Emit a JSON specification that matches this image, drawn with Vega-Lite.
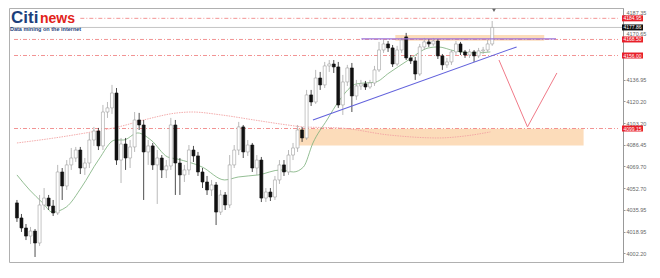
{
  "$schema": "https://vega.github.io/schema/vega-lite/v6.json",
  "width": 614,
  "height": 254,
  "autosize": {"type": "none"},
  "padding": {"left": 9, "top": 8, "right": 37, "bottom": 16},
  "background": "white",
  "config": {"view": {"stroke": "#b0b0b0", "strokeWidth": 1}, "font": "Liberation Sans",
    "axisY": {"labelOverlap": false, "labelSeparation": 0}},
  "datasets": {
    "candles": [
      {"i":0,"o":4041.2,"c":4029.5,"h":4043.5,"l":4026.4},
      {"i":1,"o":4029.5,"c":4021.7,"h":4032.6,"l":4018.6},
      {"i":2,"o":4021.7,"c":4015.4,"h":4024.8,"l":4012.3},
      {"i":3,"o":4015.4,"c":4019.3,"h":4022.5,"l":4009.2},
      {"i":4,"o":4019.3,"c":4010.0,"h":4020.9,"l":3999.1},
      {"i":5,"o":4010.0,"c":4039.6,"h":4047.4,"l":4007.7},
      {"i":6,"o":4039.6,"c":4045.0,"h":4052.8,"l":4035.7},
      {"i":7,"o":4045.0,"c":4038.8,"h":4047.4,"l":4035.7},
      {"i":8,"o":4038.8,"c":4033.4,"h":4043.5,"l":4031.0},
      {"i":9,"o":4033.4,"c":4065.3,"h":4070.8,"l":4031.8},
      {"i":10,"o":4065.3,"c":4054.4,"h":4068.4,"l":4043.5},
      {"i":11,"o":4054.4,"c":4070.8,"h":4074.6,"l":4051.3},
      {"i":12,"o":4070.8,"c":4076.2,"h":4084.0,"l":4066.9},
      {"i":13,"o":4076.2,"c":4082.4,"h":4084.8,"l":4073.1},
      {"i":14,"o":4082.4,"c":4068.4,"h":4084.8,"l":4063.7},
      {"i":15,"o":4068.4,"c":4072.3,"h":4076.2,"l":4063.0},
      {"i":16,"o":4072.3,"c":4090.2,"h":4095.7,"l":4068.4},
      {"i":17,"o":4090.2,"c":4097.2,"h":4100.4,"l":4085.6},
      {"i":18,"o":4097.2,"c":4085.6,"h":4099.6,"l":4082.4},
      {"i":19,"o":4085.6,"c":4112.0,"h":4117.5,"l":4082.4},
      {"i":20,"o":4112.0,"c":4115.2,"h":4119.8,"l":4107.4},
      {"i":21,"o":4115.2,"c":4126.8,"h":4133.1,"l":4110.5},
      {"i":22,"o":4126.8,"c":4074.6,"h":4130.7,"l":4070.8},
      {"i":23,"o":4074.6,"c":4087.1,"h":4091.8,"l":4056.7},
      {"i":24,"o":4087.1,"c":4076.2,"h":4091.8,"l":4066.9},
      {"i":25,"o":4076.2,"c":4084.8,"h":4090.2,"l":4068.4},
      {"i":26,"o":4084.8,"c":4105.8,"h":4112.0,"l":4080.9},
      {"i":27,"o":4105.8,"c":4101.9,"h":4111.3,"l":4098.0},
      {"i":28,"o":4101.9,"c":4080.9,"h":4105.8,"l":4043.5},
      {"i":29,"o":4080.9,"c":4085.6,"h":4090.2,"l":4070.8},
      {"i":30,"o":4085.6,"c":4070.8,"h":4087.9,"l":4066.9},
      {"i":31,"o":4070.8,"c":4076.2,"h":4082.4,"l":4040.4},
      {"i":32,"o":4076.2,"c":4066.9,"h":4078.5,"l":4060.6},
      {"i":33,"o":4066.9,"c":4070.0,"h":4074.6,"l":4060.6},
      {"i":34,"o":4070.0,"c":4101.9,"h":4107.4,"l":4066.9},
      {"i":35,"o":4101.9,"c":4072.3,"h":4105.8,"l":4047.4},
      {"i":36,"o":4072.3,"c":4063.0,"h":4076.2,"l":4047.4},
      {"i":37,"o":4063.0,"c":4066.9,"h":4070.8,"l":4057.5},
      {"i":38,"o":4066.9,"c":4082.4,"h":4086.3,"l":4063.0},
      {"i":39,"o":4082.4,"c":4077.8,"h":4085.6,"l":4073.1},
      {"i":40,"o":4077.8,"c":4065.3,"h":4080.9,"l":4062.2},
      {"i":41,"o":4065.3,"c":4057.5,"h":4068.4,"l":4052.8},
      {"i":42,"o":4057.5,"c":4051.3,"h":4062.2,"l":4047.4},
      {"i":43,"o":4051.3,"c":4055.2,"h":4059.1,"l":4046.6},
      {"i":44,"o":4055.2,"c":4034.1,"h":4057.5,"l":4024.0},
      {"i":45,"o":4034.1,"c":4047.4,"h":4051.3,"l":4031.8},
      {"i":46,"o":4047.4,"c":4039.6,"h":4049.7,"l":4035.7},
      {"i":47,"o":4039.6,"c":4070.8,"h":4078.5,"l":4037.3},
      {"i":48,"o":4070.8,"c":4082.4,"h":4086.3,"l":4068.4},
      {"i":49,"o":4082.4,"c":4100.4,"h":4104.3,"l":4078.5},
      {"i":50,"o":4100.4,"c":4080.9,"h":4101.9,"l":4076.2},
      {"i":51,"o":4080.9,"c":4086.3,"h":4090.2,"l":4077.8},
      {"i":52,"o":4086.3,"c":4068.4,"h":4087.9,"l":4065.3},
      {"i":53,"o":4068.4,"c":4074.6,"h":4078.5,"l":4063.0},
      {"i":54,"o":4074.6,"c":4045.0,"h":4077.0,"l":4041.9},
      {"i":55,"o":4045.0,"c":4049.7,"h":4052.8,"l":4041.9},
      {"i":56,"o":4049.7,"c":4045.8,"h":4052.8,"l":4042.7},
      {"i":57,"o":4045.8,"c":4059.1,"h":4062.2,"l":4043.5},
      {"i":58,"o":4059.1,"c":4070.8,"h":4074.6,"l":4056.0},
      {"i":59,"o":4070.8,"c":4065.3,"h":4074.6,"l":4062.2},
      {"i":60,"o":4065.3,"c":4078.5,"h":4082.4,"l":4063.0},
      {"i":61,"o":4078.5,"c":4084.0,"h":4087.9,"l":4074.6},
      {"i":62,"o":4084.0,"c":4098.0,"h":4101.9,"l":4080.9},
      {"i":63,"o":4098.0,"c":4091.8,"h":4100.4,"l":4088.7},
      {"i":64,"o":4091.8,"c":4125.3,"h":4129.2,"l":4090.2},
      {"i":65,"o":4125.3,"c":4119.8,"h":4129.2,"l":4116.7},
      {"i":66,"o":4119.8,"c":4138.5,"h":4144.8,"l":4118.3},
      {"i":67,"o":4138.5,"c":4133.1,"h":4143.2,"l":4129.2},
      {"i":68,"o":4133.1,"c":4147.9,"h":4151.0,"l":4130.7},
      {"i":69,"o":4147.9,"c":4149.4,"h":4152.5,"l":4143.2},
      {"i":70,"o":4149.4,"c":4147.1,"h":4152.5,"l":4142.4},
      {"i":71,"o":4147.1,"c":4117.5,"h":4151.0,"l":4115.2},
      {"i":72,"o":4117.5,"c":4135.4,"h":4140.9,"l":4109.7},
      {"i":73,"o":4135.4,"c":4146.3,"h":4148.7,"l":4132.3},
      {"i":74,"o":4146.3,"c":4124.5,"h":4150.2,"l":4112.0},
      {"i":75,"o":4124.5,"c":4132.3,"h":4137.0,"l":4121.4},
      {"i":76,"o":4132.3,"c":4133.9,"h":4137.0,"l":4129.2},
      {"i":77,"o":4133.9,"c":4131.5,"h":4136.2,"l":4129.2},
      {"i":78,"o":4131.5,"c":4134.6,"h":4137.0,"l":4130.0},
      {"i":79,"o":4134.6,"c":4144.8,"h":4147.9,"l":4132.3},
      {"i":80,"o":4144.8,"c":4160.3,"h":4166.6,"l":4143.2},
      {"i":81,"o":4160.3,"c":4165.0,"h":4168.1,"l":4158.0},
      {"i":82,"o":4165.0,"c":4161.9,"h":4167.3,"l":4158.8},
      {"i":83,"o":4161.9,"c":4149.4,"h":4164.2,"l":4147.1},
      {"i":84,"o":4149.4,"c":4160.3,"h":4163.5,"l":4147.9},
      {"i":85,"o":4160.3,"c":4168.1,"h":4169.7,"l":4158.0},
      {"i":86,"o":4170.5,"c":4154.1,"h":4173.6,"l":4152.5},
      {"i":87,"o":4154.1,"c":4151.8,"h":4156.4,"l":4149.4},
      {"i":88,"o":4151.8,"c":4141.6,"h":4154.9,"l":4137.0},
      {"i":89,"o":4141.6,"c":4162.7,"h":4165.0,"l":4140.1},
      {"i":90,"o":4162.7,"c":4166.6,"h":4169.7,"l":4160.3},
      {"i":91,"o":4166.6,"c":4165.0,"h":4168.9,"l":4162.7},
      {"i":92,"o":4165.0,"c":4167.3,"h":4169.7,"l":4163.5},
      {"i":93,"o":4167.3,"c":4155.7,"h":4168.9,"l":4153.3},
      {"i":94,"o":4155.7,"c":4148.7,"h":4157.2,"l":4144.8},
      {"i":95,"o":4148.7,"c":4151.0,"h":4154.1,"l":4146.3},
      {"i":96,"o":4151.0,"c":4158.8,"h":4160.3,"l":4148.7},
      {"i":97,"o":4158.8,"c":4165.0,"h":4167.3,"l":4156.4},
      {"i":98,"o":4165.0,"c":4158.8,"h":4166.6,"l":4156.4},
      {"i":99,"o":4158.8,"c":4156.4,"h":4160.3,"l":4154.1},
      {"i":100,"o":4156.4,"c":4158.8,"h":4161.1,"l":4154.1},
      {"i":101,"o":4158.8,"c":4155.7,"h":4160.3,"l":4151.0},
      {"i":102,"o":4155.7,"c":4159.6,"h":4161.9,"l":4154.1},
      {"i":103,"o":4159.6,"c":4160.3,"h":4162.7,"l":4157.2},
      {"i":104,"o":4160.3,"c":4165.0,"h":4168.1,"l":4158.8},
      {"i":105,"o":4165.0,"c":4177.86,"h":4182.9,"l":4163.5}
    ],
    "maFast": [
      {"i":0,"p":4063.0},{"i":2.8,"p":4051.3},{"i":5.7,"p":4041.2},{"i":7.8,"p":4034.1},
      {"i":10.9,"p":4038.0},{"i":14.3,"p":4053.6},{"i":18.0,"p":4074.6},{"i":21.7,"p":4090.2},
      {"i":23.5,"p":4090.2},{"i":26.7,"p":4095.7},{"i":29.6,"p":4090.2},{"i":33.3,"p":4077.0},
      {"i":35.4,"p":4075.4},{"i":40.9,"p":4069.2},{"i":45.9,"p":4059.1},{"i":48.9,"p":4061.4},
      {"i":53.3,"p":4063.0},{"i":58.3,"p":4066.9},{"i":61.1,"p":4065.3},{"i":63.3,"p":4069.2},
      {"i":65.4,"p":4087.9},{"i":68.5,"p":4105.8},{"i":71.3,"p":4121.4},{"i":75.0,"p":4133.9},
      {"i":79.3,"p":4135.4},{"i":82.2,"p":4142.4},{"i":86.5,"p":4152.5},{"i":90.9,"p":4161.9},
      {"i":93.0,"p":4162.7},{"i":96.7,"p":4159.6},{"i":101.1,"p":4158.0},{"i":104.6,"p":4158.8}
    ],
    "maSlow": [
      {"i":0,"p":4087.9},{"i":8.3,"p":4091.8},{"i":16.5,"p":4096.5},{"i":22.4,"p":4100.4},
      {"i":28.9,"p":4106.6},{"i":35.4,"p":4111.3},{"i":38.7,"p":4112.0},{"i":45.2,"p":4109.7},
      {"i":52.4,"p":4105.8},{"i":59.8,"p":4101.9},{"i":63.3,"p":4100.4},{"i":71.3,"p":4099.6},
      {"i":82.2,"p":4094.1},{"i":93.0,"p":4091.8},{"i":98.9,"p":4093.3},{"i":104.6,"p":4096.5}
    ],
    "zones": [
      {"i":83.6,"i2":116.5,"p":4172.0,"p2":4167.5},
      {"i":62.2,"i2":125.2,"p":4099.0,"p2":4086.0}
    ],
    "levels": [
      {"i":14,"i2":132.8,"p":4184.95},
      {"i":-0.65,"i2":132.8,"p":4168.5},
      {"i":-0.65,"i2":132.8,"p":4156.0},
      {"i":-0.65,"i2":132.8,"p":4099.15}
    ],
    "trend": [{"i":65.4,"p":4105.8},{"i":110.4,"p":4162.7}],
    "resist": [{"i":76.1,"p":4168.9},{"i":119.1,"p":4168.9}],
    "path": [{"i":106.5,"p":4152.5},{"i":112.8,"p":4100.4},{"i":119.3,"p":4142.4}],
    "tags": [
      {"p":4184.95,"t":"4184.95","kind":"level"},
      {"p":4177.86,"t":"4177.86","kind":"price"},
      {"p":4168.50,"t":"4168.50","kind":"level"},
      {"p":4156.00,"t":"4156.00","kind":"level"},
      {"p":4099.15,"t":"4099.15","kind":"level"}
    ]
  },
  "layer": [
    {
      "data": {"name": "zones"},
      "mark": {"type": "rect", "color": "#fcd6ae", "opacity": 0.85},
      "encoding": {
        "x": {"field": "i", "type": "quantitative", "scale": {"domain": [-0.65, 132.8], "nice": false, "zero": false}, "axis": null},
        "x2": {"field": "i2"},
        "y": {"field": "p", "type": "quantitative", "scale": {"domain": [3995.2, 4193], "nice": false, "zero": false},
          "axis": {"orient": "right", "title": null, "values": [4002.2, 4018.95, 4035.95, 4052.7, 4069.7, 4086.45, 4103.2, 4120.2, 4136.95, 4170.65, 4187.35],
            "tickCount": 30,
            "format": ".2f", "labelFontSize": 5.5, "labelColor": "#666", "tickSize": 2, "tickColor": "#999", "labelPadding": 1, "domainColor": "#999", "grid": false,
            "labelOverlap": false, "labelSeparation": 0,
            "labelBaseline": {"condition": {"test": "datum.value > 4165", "value": "bottom"}, "value": "middle"}}},
        "y2": {"field": "p2"}
      }
    },
    {
      "data": {"name": "levels"},
      "mark": {"type": "rule", "color": "#ef7878", "strokeWidth": 0.8, "strokeDash": [4, 2, 1, 2]},
      "encoding": {
        "x": {"field": "i", "type": "quantitative", "axis": null},
        "x2": {"field": "i2"},
        "y": {"field": "p", "type": "quantitative"}
      }
    },
    {
      "data": {"values": [{"p": 4177.86}]},
      "mark": {"type": "rule", "color": "#b5b5b5", "strokeWidth": 0.8},
      "encoding": {"y": {"field": "p", "type": "quantitative"}}
    },
    {
      "data": {"name": "maSlow"},
      "mark": {"type": "line", "color": "#f2a3a3", "strokeWidth": 0.9, "strokeDash": [1.5, 1], "interpolate": "monotone"},
      "encoding": {"x": {"field": "i", "type": "quantitative", "axis": null}, "y": {"field": "p", "type": "quantitative"}}
    },
    {
      "data": {"name": "maFast"},
      "mark": {"type": "line", "color": "#78ad78", "strokeWidth": 0.8, "interpolate": "monotone"},
      "encoding": {"x": {"field": "i", "type": "quantitative", "axis": null}, "y": {"field": "p", "type": "quantitative"}}
    },
    {
      "data": {"name": "candles"},
      "mark": {"type": "rule", "strokeWidth": 0.8},
      "encoding": {
        "x": {"field": "i", "type": "quantitative", "axis": null},
        "y": {"field": "l", "type": "quantitative"},
        "y2": {"field": "h"},
        "color": {"condition": {"test": "datum.c < datum.o", "value": "#222"}, "value": "#a8a8a8"}
      }
    },
    {
      "data": {"name": "candles"},
      "mark": {"type": "bar", "width": 3, "strokeWidth": 0.6},
      "encoding": {
        "x": {"field": "i", "type": "quantitative", "axis": null},
        "y": {"field": "o", "type": "quantitative"},
        "y2": {"field": "c"},
        "fill": {"condition": {"test": "datum.c < datum.o", "value": "#111"}, "value": "#ffffff"},
        "stroke": {"condition": {"test": "datum.c < datum.o", "value": "#111"}, "value": "#a0a0a0"}
      }
    },
    {
      "data": {"name": "trend"},
      "mark": {"type": "line", "color": "#6262dc", "strokeWidth": 1.1},
      "encoding": {"x": {"field": "i", "type": "quantitative", "axis": null}, "y": {"field": "p", "type": "quantitative"}}
    },
    {
      "data": {"name": "resist"},
      "mark": {"type": "line", "color": "#9a72d8", "strokeWidth": 1.3},
      "encoding": {"x": {"field": "i", "type": "quantitative", "axis": null}, "y": {"field": "p", "type": "quantitative"}}
    },
    {
      "data": {"name": "path"},
      "mark": {"type": "line", "color": "#f07a88", "strokeWidth": 1},
      "encoding": {"x": {"field": "i", "type": "quantitative", "axis": null}, "y": {"field": "p", "type": "quantitative"}}
    },
    {
      "data": {"values": [{"i": 105.4, "p": 4191.2}]},
      "mark": {"type": "point", "shape": "triangle-down", "size": 14, "filled": true, "color": "#666", "opacity": 1},
      "encoding": {"x": {"field": "i", "type": "quantitative", "axis": null}, "y": {"field": "p", "type": "quantitative"}}
    },
    {
      "data": {"name": "tags"},
      "mark": {"type": "rect", "xOffset": -1, "x2Offset": 20, "yOffset": -3, "y2Offset": 3},
      "encoding": {
        "x": {"value": "width"},
        "x2": {"value": "width"},
        "y": {"field": "p", "type": "quantitative"},
        "y2": {"field": "p"},
        "color": {"condition": {"test": "datum.kind == 'price'", "value": "#111"}, "value": "#e8202a"}
      }
    },
    {
      "data": {"name": "tags"},
      "mark": {"type": "text", "align": "left", "baseline": "middle", "dx": 0.5, "fontSize": 5, "color": "white"},
      "encoding": {
        "x": {"value": "width"},
        "y": {"field": "p", "type": "quantitative"},
        "text": {"field": "t"}
      }
    },
    {
      "data": {"values": [{}]},
      "mark": {"type": "text", "text": "Citi", "x": 2, "y": 14.5, "align": "left", "baseline": "alphabetic", "fontSize": 17, "fontWeight": "bold", "color": "#1d3f7c"}
    },
    {
      "data": {"values": [{}]},
      "mark": {"type": "text", "text": "news", "x": 31, "y": 14.5, "align": "left", "baseline": "alphabetic", "fontSize": 14, "fontWeight": "bold", "color": "#e2231a"}
    },
    {
      "data": {"values": [{}]},
      "mark": {"type": "text", "text": "Data mining on the internet", "x": 1, "y": 22.5, "align": "left", "baseline": "alphabetic", "fontSize": 5.5, "fontWeight": "bold", "color": "#1d3f7c"}
    }
  ]
}
